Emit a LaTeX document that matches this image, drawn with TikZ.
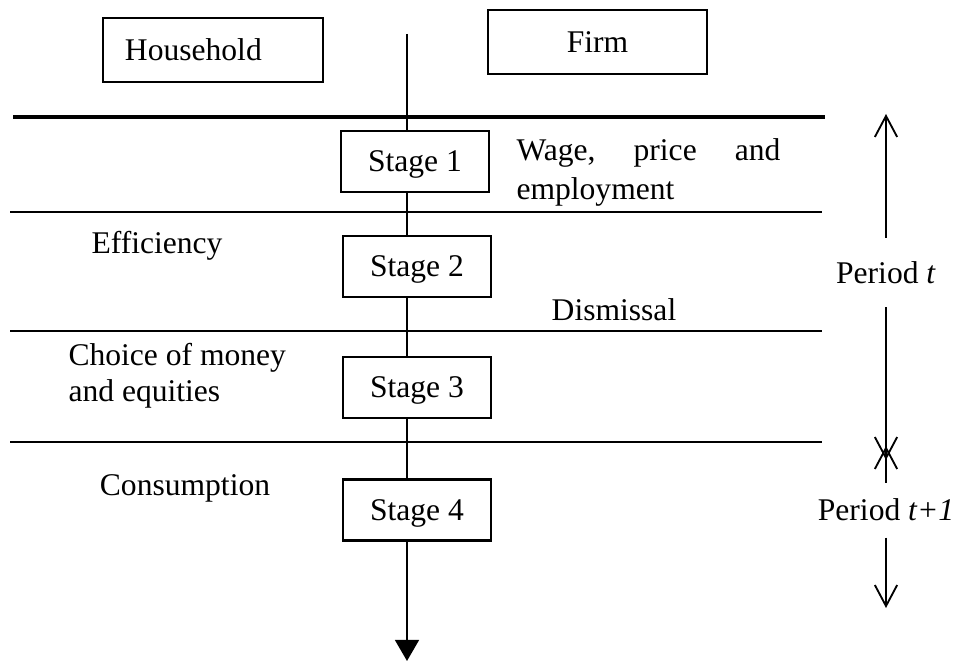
\documentclass[tikz,border=0pt]{standalone}
\usepackage{fontspec}
\setmainfont{Liberation Serif}
\usetikzlibrary{arrows.meta}

\tikzset{
	agentbox/.style={draw, line width=0.8pt, minimum height=24.3pt},
	stagebox/.style={draw, line width=0.8pt, fill=white, minimum width=56.2pt, minimum height=23.2pt, inner sep=0pt, text height=7.9pt, text depth=0pt},
	band/.style={line width=0.8pt},
	periodlbl/.style={inner sep=0pt},
	period/.style={line width=0.7pt, -{Straight Barb[length=8pt,width=8.5pt]}},
}

\begin{document}
\begin{tikzpicture}[x=0.38pt, y=-0.38pt, font=\fontsize{12}{13.8}\selectfont]
	\useasboundingbox (0,0) rectangle (962,664);
	% time axis
	\coordinate (top) at (407,34);
	\coordinate (bottom) at (407,661);
	\draw [line width=1pt, -{Triangle[length=8pt,width=9pt]}] (top) -- (bottom);
	% agents
	\node (hh) [agentbox, text width=66.9pt, inner xsep=8.4pt, align=left] at (213,50) {Household};
	\node (firm) [agentbox, minimum width=83.2pt] at (597.5,42) {Firm};
	% bands
	\coordinate (L0) at (13,117);
	\coordinate (R0) at (825,117);
	\draw [line width=1.6pt] (L0) -- (R0);
	\foreach \n/\y in {1/212,2/331,3/442} {
		\coordinate (L\n) at (10,\y);
		\coordinate (R\n) at (822,\y);
		\draw [band] (L\n) -- (R\n);
	}
	% stages
	\node (s1) [stagebox] at (415,161.5) {Stage 1};
	\node (s2) [stagebox] at (417,266.5) {Stage 2};
	\node (s3) [stagebox] at (417,387.5) {Stage 3};
	\node (s4) [stagebox] at (417,510) {Stage 4};
	\node (wage) [anchor=west, text width=100.3pt, align=left, inner sep=0pt, font=\fontsize{12}{14.8}\selectfont] at (516,172) {Wage,\hfill price\hfill and\\employment};
	\node (eff) at (157,246) {Efficiency};
	\node (dis) at (614,310) {Dismissal};
	\node (choice) [anchor=west, align=left, inner sep=0pt] at (68,376) {Choice of money\\and equities};
	\node (cons) at (185,488) {Consumption};
	% periods
	\coordinate (Ptop) at (886,114);
	\coordinate (Ptend) at (886,460);
	\coordinate (Pnext) at (886,446);
	\coordinate (Pend) at (886,608);
	\node (pt) [periodlbl, minimum height=26.2pt] at (886,272.5) {Period \textit{t}};
	\node (pt1) [periodlbl, minimum height=20.5pt] at (886,510) {Period \textit{t+1}};
	\draw [period] (pt.north) -- (Ptop);
	\draw [period] (pt.south) -- (Ptend);
	\draw [period] (pt1.north) -- (Pnext);
	\draw [period] (pt1.south) -- (Pend);
\end{tikzpicture}
\end{document}
